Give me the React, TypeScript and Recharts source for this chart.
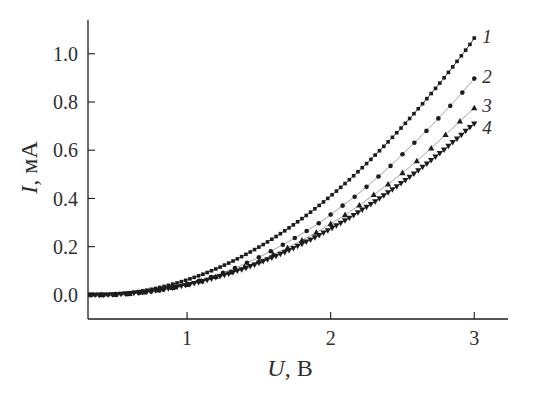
import { ComposedChart, Line, XAxis, YAxis, ReferenceDot } from "recharts";

// Dense sweeps (curves 1 and 4), volts
const denseU = [
  0.30, 0.33, 0.36, 0.39, 0.42, 0.45, 0.48, 0.51, 0.54, 0.57, 0.60, 0.63, 0.66, 0.69, 0.72, 0.75,
  0.78, 0.81, 0.84, 0.87, 0.90, 0.93, 0.96, 0.99, 1.02, 1.05, 1.08, 1.11, 1.14, 1.17, 1.20, 1.23,
  1.26, 1.29, 1.32, 1.35, 1.38, 1.41, 1.44, 1.47, 1.50, 1.53, 1.56, 1.59, 1.62, 1.65, 1.68, 1.71,
  1.74, 1.77, 1.80, 1.83, 1.86, 1.89, 1.92, 1.95, 1.98, 2.01, 2.04, 2.07, 2.10, 2.13, 2.16, 2.19,
  2.22, 2.25, 2.28, 2.31, 2.34, 2.37, 2.40, 2.43, 2.46, 2.49, 2.52, 2.55, 2.58, 2.61, 2.64, 2.67,
  2.70, 2.73, 2.76, 2.79, 2.82, 2.85, 2.88, 2.91, 2.94, 2.97, 3.00,
];

// curve 1, mA
const current1 = [
  0.000, 0.000, 0.000, 0.000, 0.0005, 0.0012, 0.0022, 0.0034, 0.0049, 0.0067, 0.0088, 0.0111, 0.0137, 0.0166, 0.0198, 0.0232,
  0.0269, 0.0309, 0.0351, 0.0397, 0.0445, 0.0495, 0.0549, 0.0605, 0.0664, 0.0726, 0.0791, 0.0858, 0.0928, 0.1001, 0.1076, 0.1154,
  0.1235, 0.1319, 0.1405, 0.1495, 0.1587, 0.1681, 0.1779, 0.1879, 0.1982, 0.2087, 0.2196, 0.2307, 0.2421, 0.2538, 0.2657, 0.2779,
  0.2904, 0.3032, 0.3162, 0.3295, 0.3431, 0.3570, 0.3711, 0.3855, 0.4002, 0.4152, 0.4304, 0.4459, 0.4617, 0.4777, 0.4941, 0.5107,
  0.5276, 0.5447, 0.5621, 0.5799, 0.5978, 0.6161, 0.6346, 0.6534, 0.6725, 0.6918, 0.7115, 0.7314, 0.7515, 0.7720, 0.7927, 0.8137,
  0.8350, 0.8565, 0.8783, 0.9004, 0.9228, 0.9455, 0.9684, 0.9916, 1.0150, 1.0388, 1.0650,
];

// curve 4, mA
const current4 = [
  0.000, 0.000, 0.000, 0.0001, 0.0003, 0.0007, 0.0014, 0.0022, 0.0031, 0.0043, 0.0057, 0.0072, 0.0089, 0.0108, 0.0129, 0.0152,
  0.0176, 0.0203, 0.0231, 0.0261, 0.0293, 0.0327, 0.0363, 0.0400, 0.0439, 0.0480, 0.0523, 0.0568, 0.0615, 0.0664, 0.0714, 0.0766,
  0.0820, 0.0876, 0.0934, 0.0994, 0.1055, 0.1118, 0.1183, 0.1250, 0.1319, 0.1390, 0.1462, 0.1537, 0.1613, 0.1691, 0.1771, 0.1852,
  0.1936, 0.2021, 0.2109, 0.2198, 0.2289, 0.2381, 0.2476, 0.2573, 0.2671, 0.2771, 0.2873, 0.2977, 0.3082, 0.3190, 0.3299, 0.3411,
  0.3524, 0.3639, 0.3755, 0.3874, 0.3994, 0.4117, 0.4241, 0.4367, 0.4494, 0.4624, 0.4755, 0.4889, 0.5024, 0.5161, 0.5300, 0.5441,
  0.5583, 0.5727, 0.5874, 0.6022, 0.6172, 0.6323, 0.6477, 0.6633, 0.6790, 0.6949, 0.7100,
];

// curve 2 (circles)
const sparseU2 = [
  0.333, 0.417, 0.5, 0.583, 0.667, 0.75, 0.833, 0.917, 1.0, 1.083, 1.167, 1.25, 1.333, 1.417, 1.5, 1.583, 1.667,
  1.75, 1.833, 1.917, 2.0, 2.083, 2.167, 2.25, 2.333, 2.417, 2.5, 2.583, 2.667, 2.75, 2.833, 2.917, 3.0,
];
const current2 = [
  0.000, 0.000, 0.001, 0.003, 0.008, 0.014, 0.022, 0.033, 0.045, 0.058, 0.074, 0.092, 0.111, 0.133, 0.156, 0.181, 0.208,
  0.236, 0.265, 0.297, 0.333, 0.370, 0.407, 0.448, 0.491, 0.535, 0.583, 0.631, 0.680, 0.732, 0.784, 0.839, 0.897,
];

// curve 3 (triangles up)
const sparseU3 = [
  0.3, 0.4, 0.5, 0.6, 0.7, 0.8, 0.9, 1.0, 1.1, 1.2, 1.3, 1.4, 1.5, 1.6,
  1.7, 1.8, 1.9, 2.0, 2.1, 2.2, 2.3, 2.4, 2.5, 2.6, 2.7, 2.8, 2.9, 3.0,
];
const current3 = [
  0.000, 0.000, 0.001, 0.005, 0.011, 0.019, 0.030, 0.042, 0.057, 0.075, 0.094, 0.116, 0.140, 0.167,
  0.195, 0.226, 0.259, 0.295, 0.332, 0.372, 0.415, 0.459, 0.506, 0.555, 0.608, 0.664, 0.720, 0.775,
];

const uTicks = [1, 2, 3];
const iTicks = [0, 0.2, 0.4, 0.6, 0.8, 1.0];

const FONT = '"Liberation Serif", "Times New Roman", serif';
const INK = "#1c1c1c";
const TEXT = "#2e2e2e";

const zip = (us: number[], is: number[]) => us.map((u, k) => ({ u, i: is[k] }));
const curve1 = zip(denseU, current1);
const curve4 = zip(denseU, current4);
const curve2 = zip(sparseU2, current2);
const curve3 = zip(sparseU3, current3);

const squareDot = (p: any) =>
  p.cx == null ? null : (
    <rect key={`sq-${p.index}`} x={p.cx - 1.8} y={p.cy - 1.8} width={3.6} height={3.6} fill={INK} />
  );
const circleDot = (p: any) =>
  p.cx == null ? null : <circle key={`ci-${p.index}`} cx={p.cx} cy={p.cy} r={2.3} fill={INK} />;
const triUpDot = (p: any) =>
  p.cx == null ? null : (
    <polygon
      key={`tu-${p.index}`}
      points={`${p.cx},${p.cy - 3.3} ${p.cx - 3.1},${p.cy + 2.3} ${p.cx + 3.1},${p.cy + 2.3}`}
      fill={INK}
    />
  );
const triDownDot = (p: any) =>
  p.cx == null ? null : (
    <polygon
      key={`td-${p.index}`}
      points={`${p.cx},${p.cy + 3.2} ${p.cx - 3.1},${p.cy - 2.3} ${p.cx + 3.1},${p.cy - 2.3}`}
      fill={INK}
    />
  );

const curveTag = (text: string, dy: number) => (props: any) => {
  const vb = props.viewBox || {};
  const x = (vb.x ?? 0) + (vb.width ?? 0) / 2;
  const y = (vb.y ?? 0) + (vb.height ?? 0) / 2;
  return (
    <text x={x + 8} y={y + dy} dominantBaseline="central" fontFamily={FONT} fontStyle="italic" fontSize={19} fill={TEXT}>
      {text}
    </text>
  );
};

const XTitle = (props: any) => {
  const vb = props.viewBox;
  return (
    <text x={vb.x + vb.width / 2 - 8} y={vb.y + 57} textAnchor="middle" fontFamily={FONT} fontSize={24} fill={TEXT}>
      <tspan fontStyle="italic">U</tspan>, В
    </text>
  );
};

const YTitle = (props: any) => {
  const vb = props.viewBox;
  const cx = vb.x + 1;
  const cy = vb.y + vb.height / 2 - 2;
  return (
    <text
      x={cx}
      y={cy}
      transform={`rotate(-90 ${cx} ${cy})`}
      textAnchor="middle"
      dominantBaseline="central"
      fontFamily={FONT}
      fontSize={24}
      fill={TEXT}
    >
      <tspan fontStyle="italic">I</tspan>, мА
    </text>
  );
};

const tickStyle = { fontFamily: FONT, fontSize: 20, fill: TEXT };

export default function App() {
  const last = (c: { u: number; i: number }[]) => c[c.length - 1];
  return (
    <div style={{ position: "absolute", left: 0, top: 0, width: 545, height: 397, background: "#fff" }}>
      <ComposedChart width={545} height={397} margin={{ top: 20, right: 37, bottom: 28, left: 28 }}>
        <XAxis
          type="number"
          dataKey="u"
          domain={[0.31, 3.235]}
          allowDataOverflow
          ticks={uTicks}
          interval={0}
          height={50}
          tickSize={-7}
          tickMargin={19}
          tick={tickStyle}
          axisLine={{ stroke: INK, strokeWidth: 1.3 }}
          tickLine={{ stroke: INK, strokeWidth: 1.1 }}
          label={{ content: XTitle }}
        />
        <YAxis
          type="number"
          dataKey="i"
          domain={[-0.1, 1.14]}
          allowDataOverflow
          ticks={iTicks}
          interval={0}
          width={60}
          tickSize={-7}
          tickMargin={17}
          tick={tickStyle}
          tickFormatter={(v: number) => v.toFixed(1)}
          axisLine={{ stroke: INK, strokeWidth: 1.3 }}
          tickLine={{ stroke: INK, strokeWidth: 1.1 }}
          label={{ content: YTitle }}
        />
        <Line data={curve2} dataKey="i" stroke="#8c8c8c" strokeWidth={0.8} dot={circleDot} activeDot={false} isAnimationActive={false} />
        <Line data={curve3} dataKey="i" stroke="#8c8c8c" strokeWidth={0.8} dot={triUpDot} activeDot={false} isAnimationActive={false} />
        <Line data={curve4} dataKey="i" stroke={INK} strokeWidth={0.8} dot={triDownDot} activeDot={false} isAnimationActive={false} />
        <Line data={curve1} dataKey="i" stroke={INK} strokeWidth={0.8} dot={squareDot} activeDot={false} isAnimationActive={false} />
        <ReferenceDot x={last(curve1).u} y={last(curve1).i} r={1} fill="none" stroke="none" label={{ content: curveTag("1", -2) }} />
        <ReferenceDot x={last(curve2).u} y={last(curve2).i} r={1} fill="none" stroke="none" label={{ content: curveTag("2", -2) }} />
        <ReferenceDot x={last(curve3).u} y={last(curve3).i} r={1} fill="none" stroke="none" label={{ content: curveTag("3", -3) }} />
        <ReferenceDot x={last(curve4).u} y={last(curve4).i} r={1} fill="none" stroke="none" label={{ content: curveTag("4", 4) }} />
      </ComposedChart>
    </div>
  );
}
